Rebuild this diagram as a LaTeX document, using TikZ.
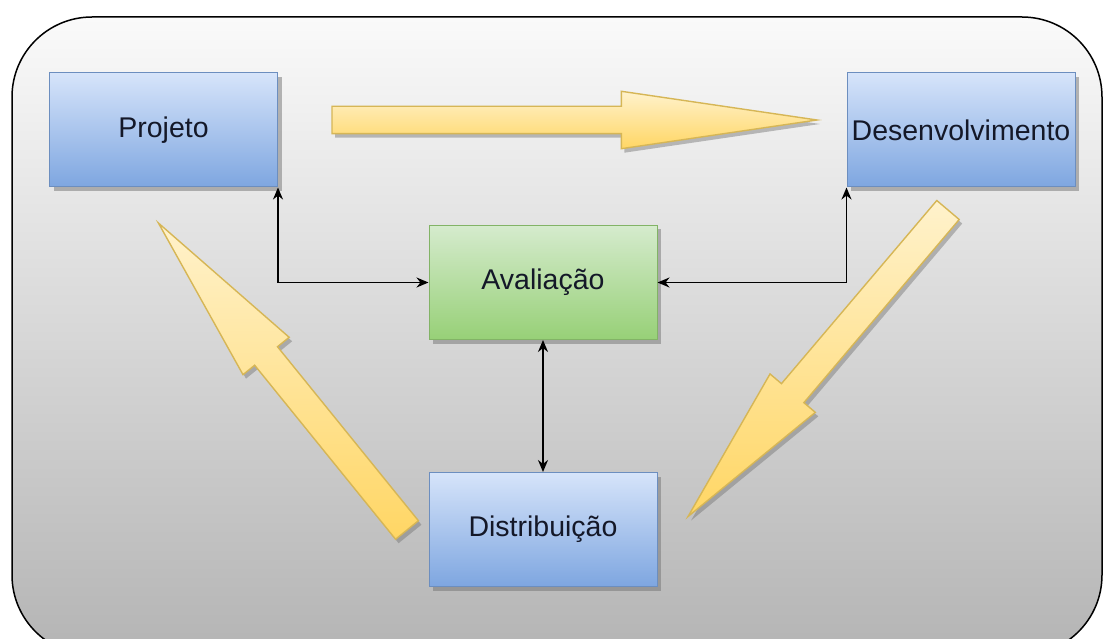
\documentclass[tikz,border=0pt]{standalone}
\usepackage{fontspec}
\setmainfont{Liberation Sans}
\usetikzlibrary{positioning}
\usetikzlibrary{shapes.arrows}
\usetikzlibrary{shadows}
\usetikzlibrary{arrows.meta}

\definecolor{bluetop}{RGB}{214,228,250}
\definecolor{bluebot}{RGB}{126,166,224}
\definecolor{blueline}{RGB}{108,142,191}
\definecolor{greentop}{RGB}{213,235,205}
\definecolor{greenbot}{RGB}{151,208,119}
\definecolor{greenline}{RGB}{130,179,102}
\definecolor{yellowtop}{RGB}{255,242,204}
\definecolor{yellowbot}{RGB}{255,214,100}
\definecolor{yellowline}{RGB}{214,182,86}
\definecolor{bgtop}{RGB}{250,250,250}
\definecolor{bgbot}{RGB}{180,180,180}
\definecolor{labelink}{RGB}{20,24,40}

\begin{document}
\begin{tikzpicture}
  [x=1pt, y=-1pt,
   frame/.style={draw=black, line width=1.5pt, rounded corners=80pt,
     top color=bgtop, bottom color=bgbot},
   box/.style={draw=blueline, line width=1pt, top color=bluetop, bottom color=bluebot,
     minimum width=228pt, minimum height=114pt, inner sep=0pt,
     text=labelink, font=\fontsize{28.5}{32}\selectfont,
     drop shadow={shadow xshift=4pt, shadow yshift=-4pt, fill=black!55, opacity=.5}},
   evalbox/.style={box, draw=greenline, top color=greentop, bottom color=greenbot},
   flow/.style={single arrow, draw=yellowline, line width=1.4pt,
     top color=yellowtop, bottom color=yellowbot,
     inner xsep=0pt, inner ysep=13pt, outer sep=0pt, anchor=tail,
     single arrow head extend=15pt,
     drop shadow={shadow xshift=3pt, shadow yshift=-4pt, fill=black!55, opacity=.45}},
   link/.style={{Stealth[length=12pt,width=10pt]}-{Stealth[length=12pt,width=10pt]},
     line width=1.6pt},
  ]
  \useasboundingbox (0,0) rectangle (1104,639);
  \clip (0,0) rectangle (1104,639);

  % background panel
  \draw[frame] (12,17) rectangle (1102,655);

  % stages
  \node[box] (proj) at (163.5,130) {Projeto};
  \node[box] (desenv) at (961,130) {Desenvolvimento};
  \node[evalbox] (aval) at (543,282.5) {Avaliação};
  \node[box, below=132pt of aval] (distr) {Distribuição};

  % cycle
  \node[flow, minimum height=485pt, single arrow tip angle=16.7] (toDev) at (332,120) {};
  \node[flow, rotate=-130.3, minimum height=402pt, single arrow tip angle=20.8,
        inner ysep=14pt] (toDist) at (948,210) {};
  \node[flow, rotate=129, minimum height=395pt, single arrow tip angle=19.7,
        inner ysep=14pt] (toProj) at (407,530) {};

  % feedback
  \draw[link] (proj.south east) |- (aval.west);
  \draw[link] (desenv.south west) |- (aval.east);
  \draw[link] (aval.south) -- (distr.north);
\end{tikzpicture}
\end{document}
